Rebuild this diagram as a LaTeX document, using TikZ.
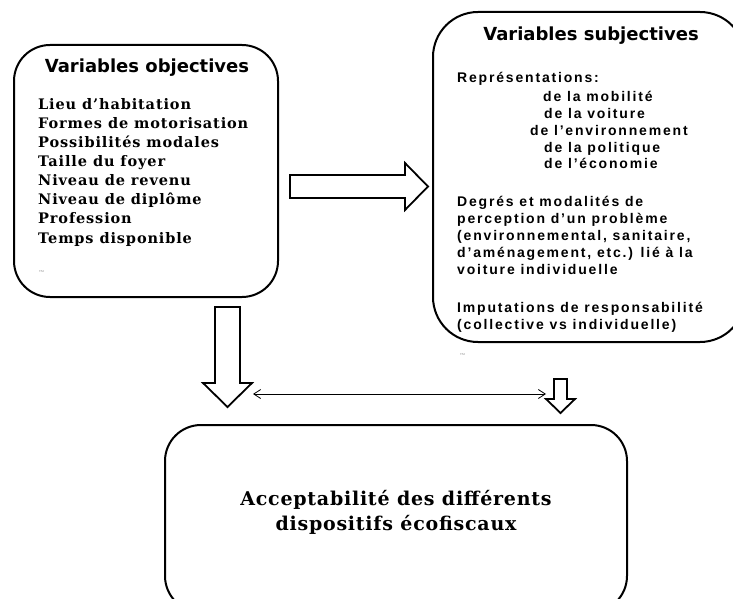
\documentclass[tikz,border=0pt]{standalone}
\usepackage{fontspec}
\setmainfont{Liberation Serif}
\newfontfamily\ttlfont{DejaVu Sans}
\newfontfamily\subfont[LetterSpace=13]{Liberation Sans}
\newfontfamily\objfont[LetterSpace=6]{DejaVu Serif}
\newfontfamily\concfont[LetterSpace=4]{DejaVu Serif}
\usetikzlibrary{arrows.meta}
\begin{document}
\begin{tikzpicture}[x=1pt,y=-1pt,
  box/.style={draw, line width=2pt, rounded corners=36pt, rectangle, inner sep=0pt},
  blockarrow/.style={draw, line width=1.8pt, fill=white, line join=miter},
  ttl/.style={font=\ttlfont\bfseries\fontsize{18}{21}\selectfont, inner sep=0pt, anchor=mid},
  objitem/.style={font=\objfont\bfseries\fontsize{14.5}{17}\selectfont, anchor=mid west, inner sep=0pt},
  subitem/.style={font=\subfont\bfseries\fontsize{14}{17}\selectfont, anchor=mid west, inner sep=0pt},
  conc/.style={font=\concfont\bfseries\fontsize{19}{25}\selectfont, inner sep=0pt, anchor=mid},
  tinytext/.style={font=\fontsize{3}{3}\selectfont, text=gray, inner sep=0pt, anchor=mid west}]
\useasboundingbox (0,0) rectangle (733,599);
\clip (0,0) rectangle (733,599);

% boxes
\node[box, minimum width=264pt, minimum height=252pt] (obj) at (146,171) {};
\node[box, minimum width=312pt, minimum height=330pt, rounded corners=45pt] (subj) at (589,177) {};
\node[box, minimum width=462pt, minimum height=187pt] (acc) at (396,518.5) {};

% left box text
\node[ttl] (objt) at (147,70) {Variables objectives};
\node[objitem] (o1) at (38,107) {Lieu d’habitation};
\node[objitem] (o2) at (38,126) {Formes de motorisation};
\node[objitem] (o3) at (38,145) {Possibilités modales};
\node[objitem] (o4) at (38,164) {Taille du foyer};
\node[objitem] (o5) at (38,183) {Niveau de revenu};
\node[objitem] (o6) at (38,202) {Niveau de diplôme};
\node[objitem] (o7) at (38,221) {Profession};
\node[objitem] (o8) at (38,241) {Temps disponible};
\node[tinytext] (tm1) at (39,270) {TM};

% right box text
\node[ttl] (subjt) at (591,38) {Variables subjectives};
\node[subitem] (s1) at (457,80) {Représentations:};
\node[subitem] (s2) at (543,99) {de la mobilité};
\node[subitem] (s3) at (544,116) {de la voiture};
\node[subitem] (s4) at (530,133) {de l’environnement};
\node[subitem] (s5) at (544,150) {de la politique};
\node[subitem] (s6) at (544,166) {de l’économie};
\node[subitem] (s7) at (457,204) {Degrés et modalités de};
\node[subitem] (s8) at (457,221) {perception d’un problème};
\node[subitem] (s9) at (457,238) {(environnemental, sanitaire,};
\node[subitem] (s10) at (457,255) {d’aménagement, etc.) lié à la};
\node[subitem] (s11) at (457,272) {voiture individuelle};
\node[subitem] (s12) at (457,310) {Imputations de responsabilité};
\node[subitem] (s13) at (457,327) {(collective vs individuelle)};
\node[tinytext] (tm2) at (460,353) {TM};

% bottom text
\node[conc] (c1) at (396,503) {Acceptabilité des différents};
\node[conc] (c2) at (396,528) {dispositifs écofiscaux};

% block arrows
\draw[blockarrow] (290,175) -- (405,175) -- (405,163) -- (428,186.5) -- (405,210) -- (405,198) -- (290,198) -- cycle;
\draw[blockarrow] (215,307) -- (240,307) -- (240,383) -- (252,383) -- (227.5,407) -- (203,383) -- (215,383) -- cycle;
\draw[blockarrow] (554,379) -- (567,379) -- (567,399) -- (575,399) -- (560.5,413) -- (546,399) -- (554,399) -- cycle;

% double arrow
\coordinate (da) at (253,394);
\coordinate (db) at (546,394);
\draw[line width=0.8pt, {Straight Barb[length=7pt,width=9pt]}-{Straight Barb[length=7pt,width=9pt]}] (da) -- (db);
\end{tikzpicture}
\end{document}
